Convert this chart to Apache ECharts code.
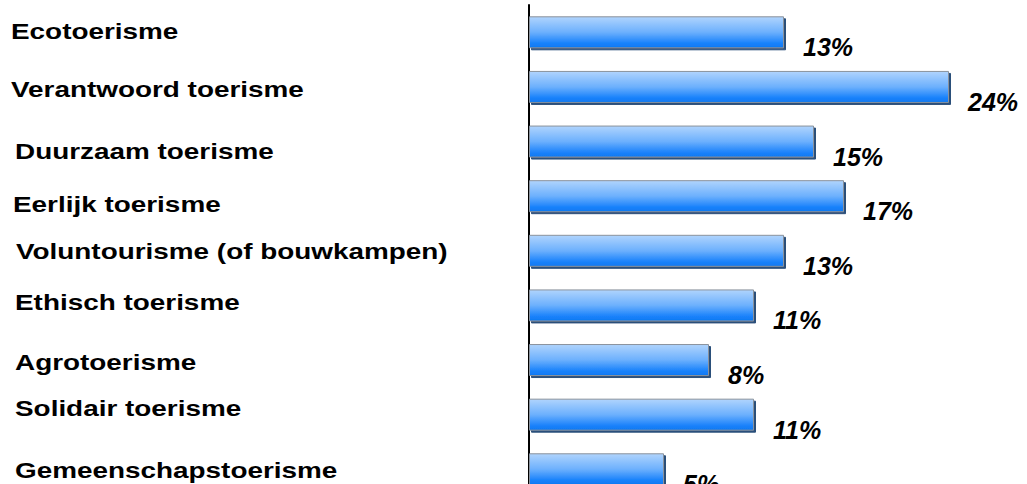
<!DOCTYPE html>
<html>
<head>
<meta charset="utf-8">
<script src="https://cdn.jsdelivr.net/npm/echarts@6/dist/echarts.min.js"></script>
<style>
  html, body { margin: 0; padding: 0; background: #fff; }
  #frame { width: 1027px; height: 484px; overflow: hidden; position: relative; }
  #chart { width: 1027px; height: 512px; }
</style>
</head>
<body>
<div id="frame"><div id="chart"></div></div>
<script>
// Survey shares per form of tourism (%)
const categories = [
  'Ecotoerisme',
  'Verantwoord toerisme',
  'Duurzaam toerisme',
  'Eerlijk toerisme',
  'Voluntourisme (of bouwkampen)',
  'Ethisch toerisme',
  'Agrotoerisme',
  'Solidair toerisme',
  'Gemeenschapstoerisme'
];
const shares = [13, 24, 15, 17, 13, 11, 8, 11, 5];

// Value axis range; bars grow from the axis start
const axisMin = -4;
const axisMax = 26;

// Placement of the category names: left edge and small vertical shift per row (px)
const nameLeft = [11, 11, 15, 13, 16, 15, 15, 15, 15];
const nameShift = [-1.5, 2, 9, 7.5, 0.5, -3.5, 1.5, -6.5, 0.5];

const chart = echarts.init(document.getElementById('chart'), null, { renderer: 'svg' });

chart.setOption({
  animation: false,
  // the last row runs past the bottom edge of the visible frame
  grid: { left: 529, top: 5, width: 450, height: 491.6, containLabel: false },
  xAxis: {
    type: 'value',
    min: axisMin,
    max: axisMax,
    startValue: axisMin,
    show: false
  },
  yAxis: {
    type: 'category',
    inverse: true,
    data: categories,
    axisLine: { show: true, onZero: false, lineStyle: { color: '#000', width: 2 } },
    axisTick: { show: false },
    axisLabel: { show: false },
    splitLine: { show: false }
  },
  series: [
    {
      type: 'bar',
      data: shares,
      barWidth: 32,
      itemStyle: {
        color: new echarts.graphic.LinearGradient(0, 0, 0, 1, [
          { offset: 0, color: '#b0d4fd' },
          { offset: 0.5, color: '#6cb0fd' },
          { offset: 0.85, color: '#1a82fb' },
          { offset: 1, color: '#0d78f2' }
        ]),
        borderColor: '#8a929c',
        borderWidth: 1,
        shadowColor: '#2b4f7a',
        shadowOffsetX: 2,
        shadowOffsetY: 2,
        shadowBlur: 0
      },
      label: {
        show: true,
        position: 'right',
        distance: 19,
        offset: [0, 15],
        formatter: '{c}%',
        fontFamily: '"Liberation Sans", Arial, sans-serif',
        fontWeight: 'bold',
        fontStyle: 'italic',
        fontSize: 25,
        color: '#000'
      }
    },
    {
      // category names, widened to the proportions of the slide lettering
      type: 'custom',
      coordinateSystem: 'cartesian2d',
      data: categories.map((c, i) => [axisMin, i]),
      encode: { x: 0, y: 1 },
      silent: true,
      clip: false,
      renderItem(params, api) {
        const i = params.dataIndex;
        const y = api.coord([axisMin, i])[1];
        return {
          type: 'text',
          x: nameLeft[i],
          y: y + nameShift[i],
          scaleX: 1.24,
          style: {
            text: categories[i],
            fill: '#000',
            fontFamily: '"Liberation Sans", Arial, sans-serif',
            fontWeight: 'bold',
            fontSize: 22.5,
            align: 'left',
            verticalAlign: 'middle'
          }
        };
      }
    }
  ]
});
</script>
</body>
</html>
